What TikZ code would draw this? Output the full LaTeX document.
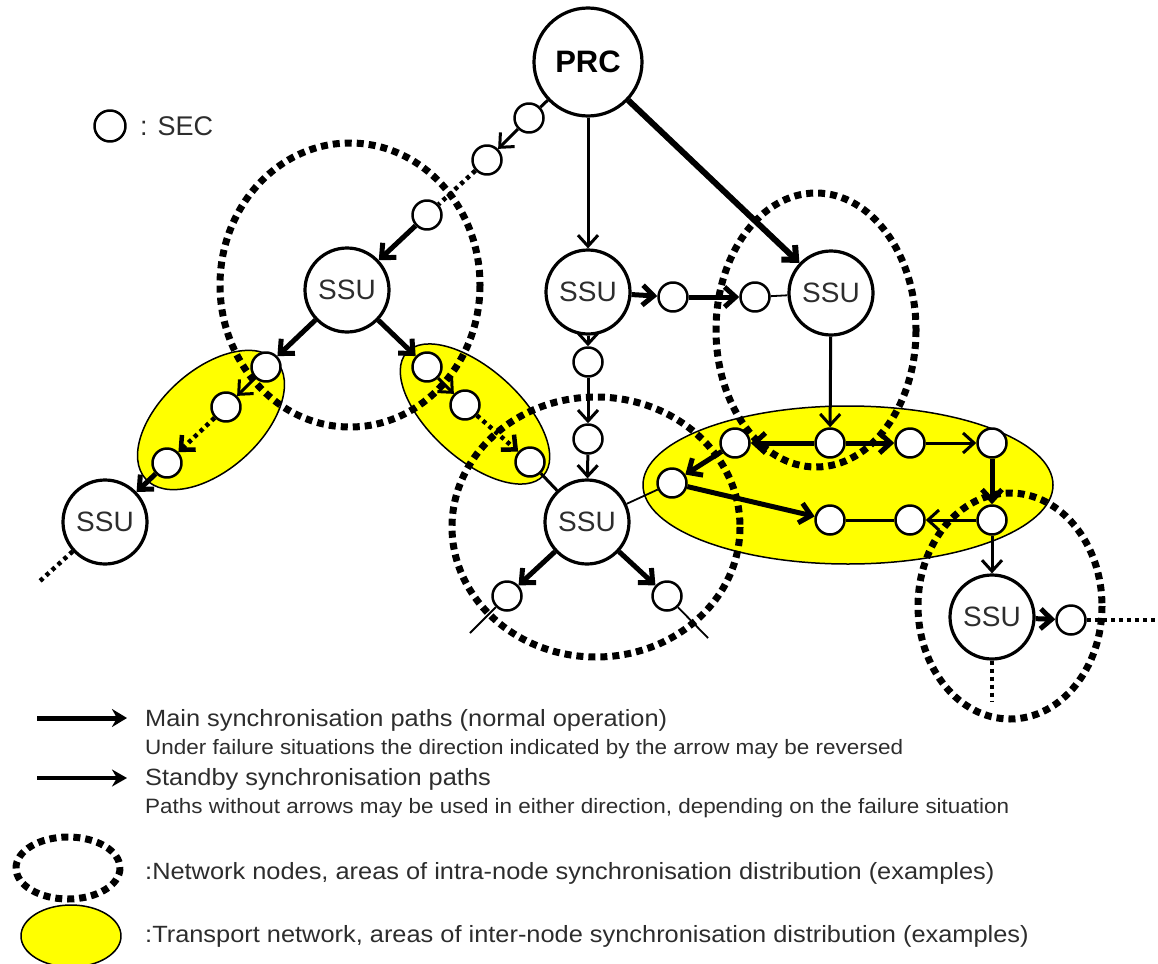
\documentclass[tikz,border=0pt]{standalone}
\usepackage{fontspec}
\setmainfont{Liberation Sans}
\newfontfamily\legfont[FakeStretch=1.08]{Liberation Sans}
\usetikzlibrary{arrows.meta}
\definecolor{netyellow}{RGB}{255,255,0}
\definecolor{txtgray}{RGB}{45,45,45}

\tikzset{
  sec/.style={circle, draw, line width=2.5pt, fill=white, minimum size=29pt, inner sep=0pt},
  ssu/.style={circle, draw, line width=3.2pt, fill=white, minimum size=84pt, inner sep=0pt, text=txtgray, font=\fontsize{28}{30}\selectfont},
  netnode/.style={line width=7pt, dash pattern=on 7pt off 5pt},
  transport/.style={fill=netyellow, draw=black, line width=1.5pt},
  mainp/.style={line width=5pt},
  stbyp/.style={line width=3pt},
  plain/.style={line width=1.8pt},
  dotp/.style={line width=4.5pt, dash pattern=on 4pt off 4pt},
  bigtxt/.style={anchor=base west, inner sep=0pt, text=txtgray, font=\legfont\fontsize{23.5}{26}\selectfont},
  smalltxt/.style={anchor=base west, inner sep=0pt, text=txtgray, font=\legfont\fontsize{20.8}{23}\selectfont}
}

\begin{document}
\begin{tikzpicture}[x=1pt, y=-1pt, >={Straight Barb[length=11pt,width=20pt]}, line join=round]
	\useasboundingbox (0,0) rectangle (1158,963);
	% transport network areas
	\draw[transport, rotate around={42:(211,420)}] (211,420) ellipse [x radius=88, y radius=50];
	\draw[transport, rotate around={-42:(475,414)}] (475,414) ellipse [x radius=92, y radius=45];
	\draw[transport] (848,485) ellipse [x radius=205, y radius=79];
	% network nodes
	\draw[netnode] (350,285) ellipse [x radius=130, y radius=142];
	\draw[netnode] (816,330) ellipse [x radius=100, y radius=137];
	\draw[netnode] (596,527) ellipse [x radius=144, y radius=130];
	\draw[netnode] (1010,606) ellipse [x radius=92, y radius=113];

	\node[ssu, minimum size=108pt, text=black, font=\bfseries\fontsize{31}{33}\selectfont] (prc) at (588,62) {PRC};
	\node[ssu] (ssuA) at (347,290) {SSU};
	\node[ssu] (ssuB) at (588,292) {SSU};
	\node[ssu] (ssuC) at (831,293) {SSU};
	\node[ssu] (ssuD) at (587,522) {SSU};
	\node[ssu] (ssuE) at (105,522) {SSU};
	\node[ssu] (ssuF) at (992,617) {SSU};

	\node[sec] (s1) at (529,118) {};
	\node[sec] (s2) at (487,160) {};
	\node[sec] (s3) at (427,215) {};
	\node[sec] (s4) at (266,367) {};
	\node[sec] (s5) at (226,407) {};
	\node[sec] (s6) at (167,463) {};
	\node[sec] (s7) at (427,367) {};
	\node[sec] (s8) at (465,405) {};
	\node[sec] (s9) at (530,462) {};
	\node[sec] (s10) at (673,297) {};
	\node[sec] (s11) at (755,297) {};
	\node[sec] (s12) at (588,362) {};
	\node[sec] (s13) at (588,439) {};
	\node[sec] (s14) at (735,443) {};
	\node[sec] (s15) at (830,443) {};
	\node[sec] (s16) at (910,443) {};
	\node[sec] (s17) at (992,443) {};
	\node[sec] (s18) at (672,483) {};
	\node[sec] (s19) at (830,520) {};
	\node[sec] (s20) at (910,520) {};
	\node[sec] (s21) at (992,520) {};
	\node[sec] (s22) at (507,596) {};
	\node[sec] (s23) at (667,596) {};
	\node[sec] (s24) at (1071,620) {};

	\coordinate (eLL) at (40,581);
	\coordinate (e22) at (470,633);
	\coordinate (e23) at (708,638);
	\coordinate (eR) at (1158,620);
	\coordinate (eD) at (992,702);

	\draw[stbyp] (prc) -- (s1);
	\draw[stbyp,->] (s1) -- (s2);
	\draw[dotp] (s2) -- (s3);
	\draw[mainp,->] (s3) -- (ssuA);
	\draw[stbyp,->] (prc) -- (ssuB);
	\draw[mainp,line width=6pt,->] (prc) -- (ssuC);
	\draw[mainp,->] (ssuA) -- (s4);
	\draw[stbyp,->] (s4) -- (s5);
	\draw[dotp,->] (s5) -- (s6);
	\draw[mainp,->] (s6) -- (ssuE);
	\draw[dotp] (ssuE) -- (eLL);
	\draw[mainp,->] (ssuA) -- (s7);
	\draw[stbyp,->] (s7) -- (s8);
	\draw[dotp,->] (s8) -- (s9);
	\draw[stbyp] (s9) -- (ssuD);
	\draw[mainp,->] (ssuB) -- (s10);
	\draw[mainp,->] (s10) -- (s11);
	\draw[plain] (s11) -- (ssuC);
	\draw[stbyp,->] (ssuB) -- (s12);
	\draw[stbyp,->] (s12) -- (s13);
	\draw[stbyp,->] (s13) -- (ssuD);
	\draw[stbyp,->] (ssuC) -- (s15);
	\draw[mainp,->] (s15) -- (s14);
	\draw[mainp,->] (s15) -- (s16);
	\draw[stbyp,->] (s16) -- (s17);
	\draw[mainp,->] (s14) -- (s18);
	\draw[mainp,->] (s18) -- (s19);
	\draw[stbyp] (s19) -- (s20);
	\draw[stbyp,->] (s21) -- (s20);
	\draw[mainp,->] (s17) -- (s21);
	\draw[stbyp,->] (s21) -- (ssuF);
	\draw[plain] (s18) -- (ssuD);
	\draw[mainp,->] (ssuD) -- (s22);
	\draw[plain] (s22) -- (e22);
	\draw[mainp,->] (ssuD) -- (s23);
	\draw[plain] (s23) -- (e23);
	\draw[mainp,->] (ssuF) -- (s24);
	\draw[dotp] (s24) -- (eR);
	\draw[dotp] (ssuF) -- (eD);

	% legend
	\node[sec, minimum size=31pt] (legsec) at (110,126) {};
	\node[anchor=west, inner sep=0pt, text=txtgray, font=\fontsize{27}{29}\selectfont] (legsectxt) at (140,126) {: SEC};
	\coordinate (lm1) at (37,718);
	\coordinate (lm2) at (127,718);
	\coordinate (ls1) at (37,778);
	\coordinate (ls2) at (127,778);
	\draw[line width=5pt, -{Stealth[length=15pt,width=18pt]}] (lm1) -- (lm2);
	\draw[line width=3.5pt, -{Stealth[length=15pt,width=17pt]}] (ls1) -- (ls2);
	\node[bigtxt] (t1) at (145,726) {Main synchronisation paths (normal operation)};
	\node[smalltxt] (t2) at (145,754) {Under failure situations the direction indicated by the arrow may be reversed};
	\node[bigtxt] (t3) at (145,785) {Standby synchronisation paths};
	\node[smalltxt] (t4) at (145,813) {Paths without arrows may be used in either direction, depending on the failure situation};
	\draw[netnode] (68,868) ellipse [x radius=52, y radius=31];
	\draw[transport] (71,936) ellipse [x radius=50, y radius=31];
	\node[bigtxt] (t5) at (145,879) {:Network nodes, areas of intra-node synchronisation distribution (examples)};
	\node[bigtxt] (t6) at (145,942) {:Transport network, areas of inter-node synchronisation distribution (examples)};
\end{tikzpicture}
\end{document}
